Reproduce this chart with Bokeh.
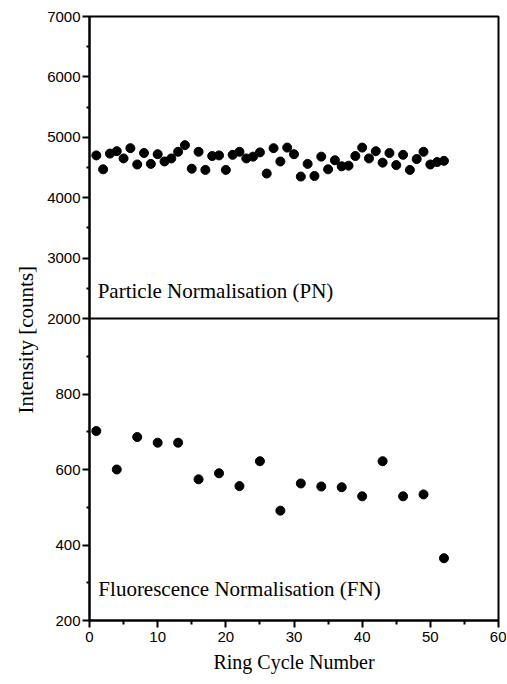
import math
from bokeh.plotting import figure
from bokeh.models import Range1d, FixedTicker, Label, Span, Title
from bokeh.embed import file_html
from bokeh.resources import INLINE

# ---- data ----
pn_cycle = list(range(1, 53))
pn_intensity = [4700, 4470, 4730, 4770, 4650, 4820, 4550, 4740, 4560, 4720,
                4600, 4650, 4760, 4870, 4480, 4760, 4460, 4690, 4700, 4460,
                4710, 4760, 4650, 4680, 4750, 4400, 4820, 4600, 4830, 4720,
                4350, 4560, 4360, 4680, 4470, 4620, 4520, 4530, 4690, 4830,
                4650, 4770, 4580, 4740, 4540, 4710, 4460, 4640, 4760, 4550,
                4590, 4610]

fn_cycle = [1, 4, 7, 10, 13, 16, 19, 22, 25, 28, 31, 34, 37, 40, 43, 46, 49, 52]
fn_intensity = [702, 600, 686, 671, 671, 574, 590, 556, 622, 491, 563, 555,
                553, 529, 622, 529, 534, 365]

x_ticks = [0, 10, 20, 30, 40, 50, 60]
x_minor = [5, 15, 25, 35, 45, 55]
fn_ticks = [200, 400, 600, 800]
fn_minor = [300, 500, 700, 900]
pn_ticks = [2000, 3000, 4000, 5000, 6000, 7000]
pn_minor = [2500, 3500, 4500, 5500, 6500]

# ---- ranges: bottom panel (FN) 200..1000 on lower half, top panel (PN) 2000..7000 on upper half
fn_lo, fn_hi = 200, 1000
pn_lo, pn_hi = 2000, 7000
main_range = Range1d(fn_lo, fn_hi + (fn_hi - fn_lo))
top_range = Range1d(pn_lo - (pn_hi - pn_lo), pn_hi)

def pn_to_main(v):
    return fn_hi + (v - pn_lo) * (fn_hi - fn_lo) / (pn_hi - pn_lo)

major_pos = fn_ticks + [pn_to_main(v) for v in pn_ticks]
minor_pos = fn_minor + [pn_to_main(v) for v in pn_minor]
overrides = {}
for v in fn_ticks:
    overrides[v] = str(v)
for v in pn_ticks:
    overrides[pn_to_main(v)] = str(v)

p = figure(frame_width=409, frame_height=604,
           x_range=Range1d(0, 60), y_range=main_range,
           output_backend="svg", toolbar_location=None,
           min_border_left=89, min_border_top=16, min_border_right=8,
           min_border_bottom=60)
p.extra_y_ranges = {"top": top_range}
p.grid.visible = False
p.outline_line_color = "black"
p.outline_line_width = 2
p.outline_line_alpha = 1.0
p.background_fill_color = "white"
p.border_fill_color = "white"

SERIF = "Liberation Serif"
SANS = "Liberation Sans"

# x axis
xa = p.xaxis[0]
xa.ticker = FixedTicker(ticks=x_ticks, minor_ticks=x_minor)
xa.axis_label = "Ring Cycle Number"
xa.axis_label_text_font = SERIF
xa.axis_label_text_font_style = "normal"
xa.axis_label_text_font_size = "20px"
xa.axis_label_text_color = "black"
xa.axis_label_standoff = 6
xa.major_label_text_font = SANS
xa.major_label_text_font_size = "15px"
xa.major_label_text_color = "black"
xa.major_label_standoff = 4
xa.axis_line_width = 2
xa.axis_line_color = "black"
xa.major_tick_out = 7
xa.major_tick_in = 0
xa.minor_tick_out = 4
xa.minor_tick_in = 0
xa.major_tick_line_width = 2
xa.minor_tick_line_width = 2
xa.major_tick_line_color = "black"
xa.minor_tick_line_color = "black"

# y axis (shared strip, two panels)
ya = p.yaxis[0]
ya.ticker = FixedTicker(ticks=major_pos, minor_ticks=minor_pos)
ya.major_label_overrides = overrides
ya.major_label_text_font = SANS
ya.major_label_text_font_size = "15px"
ya.major_label_text_color = "black"
ya.major_label_standoff = 2
ya.axis_line_width = 2
ya.axis_line_color = "black"
ya.major_tick_out = 7
ya.major_tick_in = 0
ya.minor_tick_out = 3
ya.minor_tick_in = 0
ya.major_tick_line_width = 2
ya.minor_tick_line_width = 2
ya.major_tick_line_color = "black"
ya.minor_tick_line_color = "black"

# y-axis title as a side title (allows an offset along the axis)
p.add_layout(Title(text="Intensity [counts]", align="left", offset=207,
                   text_font=SERIF, text_font_size="21px", text_font_style="normal",
                   text_color="black", standoff=14), "left")

# panel divider
p.add_layout(Span(location=fn_hi, dimension="width", line_color="black", line_width=2))

# points
p.scatter(pn_cycle, pn_intensity, y_range_name="top", size=9, color="black")
p.scatter(fn_cycle, fn_intensity, size=9, color="black")

# panel captions
p.add_layout(Label(x=1.2, y=2450, y_range_name="top", text="Particle Normalisation (PN)",
                   text_font=SERIF, text_font_size="21px", text_color="black",
                   text_baseline="middle", text_align="left"))
p.add_layout(Label(x=1.3, y=283, text="Fluorescence Normalisation (FN)",
                   text_font=SERIF, text_font_size="21px", text_color="black",
                   text_baseline="middle", text_align="left"))

with open("out.html", "w") as f:
    f.write(file_html(p, INLINE))
